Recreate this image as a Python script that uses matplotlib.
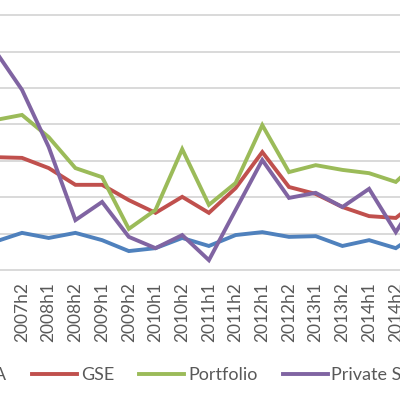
import matplotlib.pyplot as plt

# half-year periods (chart is a crop, first and last points sit past the edges)
periods = ["2007h1", "2007h2", "2008h1", "2008h2", "2009h1", "2009h2",
           "2010h1", "2010h2", "2011h1", "2011h2", "2012h1", "2012h2",
           "2013h1", "2013h2", "2014h1", "2014h2", "2015h1"]

fha = [0.78, 1.02, 0.88, 1.02, 0.82, 0.52, 0.60, 0.88, 0.66, 0.96,
       1.04, 0.91, 0.93, 0.66, 0.82, 0.60, 1.10]
gse = [3.10, 3.08, 2.80, 2.34, 2.34, 1.92, 1.57, 2.01, 1.57, 2.25,
       3.24, 2.28, 2.09, 1.73, 1.48, 1.43, 2.00]
portfolio = [4.12, 4.26, 3.65, 2.80, 2.55, 1.13, 1.65, 3.32, 1.79, 2.39,
             3.98, 2.69, 2.88, 2.75, 2.66, 2.42, 3.08]
private_sec = [6.02, 4.95, 3.38, 1.37, 1.87, 0.91, 0.60, 0.96, 0.27, 1.65,
               3.02, 1.98, 2.12, 1.73, 2.23, 1.04, 2.20]

series = [("FHA", fha, "#4F81BD"),
          ("GSE", gse, "#C0504D"),
          ("Portfolio", portfolio, "#9BBB59"),
          ("Private Securitization", private_sec, "#8064A2")]

plt.rcParams["font.family"] = ["Lato", "DejaVu Sans"]

W, H = 400, 398
fig = plt.figure(figsize=(W / 100, H / 100), dpi=100)

# axes deliberately wider/taller than the figure to reproduce the crop
step = 26.7
left_px = -4.7 - step / 2
n = len(periods)
ax_w = n * step
y0_px = 270          # x-axis line, pixels from top
unit = 36.4          # pixels per gridline
ymax = 8
ax = fig.add_axes([left_px / W, (H - y0_px) / H, ax_w / W, ymax * unit / H])

x = list(range(n))
for name, vals, col in series:
    ax.plot(x, vals, color=col, lw=2.8, label=name, solid_joinstyle="miter")

ax.set_xlim(-0.5, n - 0.5)
ax.set_ylim(0, ymax)
ax.set_yticks(range(1, ymax + 1))
ax.yaxis.grid(True, color="#d9d9d9", lw=1.4)
ax.set_axisbelow(True)
ax.set_xticks(x)
ax.set_xticklabels(periods, rotation=90, color="#595959", fontsize=12.5)
ax.tick_params(axis="x", length=0, pad=9)
ax.tick_params(axis="y", length=0, labelleft=False)
for s in ["top", "right", "left"]:
    ax.spines[s].set_visible(False)
ax.spines["bottom"].set_color("#d9d9d9")
ax.spines["bottom"].set_linewidth(1.4)

fig.legend(loc="center left", bbox_to_anchor=(-87 / W, 1 - 375 / H),
           ncol=4, frameon=False, fontsize=13, handlelength=2.5,
           handletextpad=0.2, columnspacing=1.4, borderpad=0,
           labelcolor="#595959")

fig.savefig("out.png", dpi=100)
